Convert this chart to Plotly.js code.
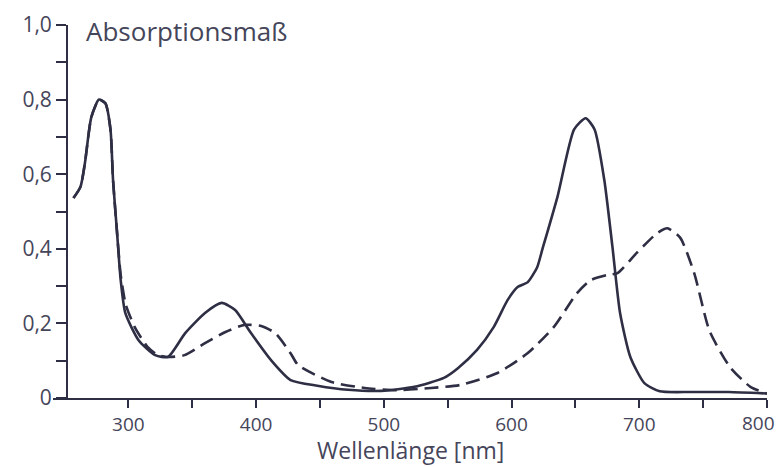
<!DOCTYPE html>
<html>
<head>
<meta charset="utf-8">
<script src="https://cdn.plot.ly/plotly-3.0.1.min.js"></script>
<style>html,body{margin:0;padding:0;background:#fff;}#chart{width:780px;height:467px;}</style>
</head>
<body>
<div id="chart"></div>
<script>
// Solid curve
const solidX = [257, 262.5, 266, 271, 277, 282, 286, 288, 291, 294, 297.6, 308, 321, 331, 344.5, 360, 373, 383.6, 396, 412, 427, 448, 472, 498, 524, 547, 558, 573, 586, 597, 605, 612.5, 620, 624, 636, 649, 658, 665, 672.6, 679, 685, 693, 704, 716, 740, 770, 800];
const solidY = [0.536, 0.566, 0.63, 0.753, 0.80, 0.79, 0.72, 0.585, 0.45, 0.316, 0.228, 0.155, 0.115, 0.11, 0.174, 0.228, 0.255, 0.236, 0.174, 0.10, 0.048, 0.033, 0.022, 0.019, 0.03, 0.054, 0.08, 0.129, 0.19, 0.263, 0.298, 0.31, 0.35, 0.397, 0.54, 0.72, 0.75, 0.72, 0.585, 0.405, 0.227, 0.11, 0.04, 0.018, 0.016, 0.016, 0.012];
// Dashed curve
const dashX = [257, 262.5, 266, 271, 277, 282, 286, 288, 291, 294, 298, 305, 315, 323, 332, 344, 360, 376, 391, 404, 415, 427, 433, 459, 485, 511, 537, 560, 589, 612.5, 633, 651, 662, 675, 683, 698, 714, 722, 732, 743, 755, 771, 787, 800];
const dashY = [0.536, 0.566, 0.63, 0.753, 0.80, 0.79, 0.72, 0.585, 0.45, 0.33, 0.25, 0.19, 0.137, 0.115, 0.11, 0.115, 0.147, 0.177, 0.196, 0.193, 0.174, 0.12, 0.088, 0.043, 0.027, 0.021, 0.027, 0.035, 0.067, 0.12, 0.19, 0.28, 0.316, 0.33, 0.335, 0.389, 0.442, 0.455, 0.43, 0.335, 0.18, 0.083, 0.03, 0.012];
// Tick labels
const yTickVals = [0, 0.2, 0.4, 0.6, 0.8, 1.0];
const yTickText = ["0", "0,2", "0,4", "0,6", "0,8", "1,0"];
const yMinorVals = [0.1, 0.3, 0.5, 0.7, 0.9];
const xTickVals = [300, 400, 500, 600, 700, 800];
const xTickText = ["300", "400", "500", "600", "700", "800"];
const xMinorVals = [350, 450, 550, 650, 750];

const lineColor = "#2e2e44";
const textColor = "#45455a";

const traces = [
  {x: solidX, y: solidY, type: "scatter", mode: "lines",
   line: {color: lineColor, width: 2.6, shape: "spline", smoothing: 0.6}, showlegend: false, cliponaxis: false},
  {x: dashX, y: dashY, type: "scatter", mode: "lines",
   line: {color: lineColor, width: 2.6, dash: "14px,7px", shape: "spline", smoothing: 0.6}, showlegend: false, cliponaxis: false}
];

// The last x tick label sits against the right edge: draw it as a right-aligned label at its tick
const lastIdx = xTickVals.length - 1;
const axisTickText = xTickText.map((t, i) => i === lastIdx ? "" : t);

const layout = {
  width: 780, height: 467,
  margin: {l: 53, r: 13, t: 25, b: 69},
  paper_bgcolor: "#fff", plot_bgcolor: "#fff",
  font: {family: "Open Sans, sans-serif", color: textColor, size: 20},
  xaxis: {
    range: [241, 800], showgrid: false, zeroline: false,
    showline: true, linecolor: lineColor, linewidth: 2,
    ticks: "outside", ticklen: 8, tickwidth: 2, tickcolor: lineColor,
    tickvals: xTickVals, ticktext: axisTickText, ticklabeloverflow: "allow",
    minor: {tickvals: xMinorVals, ticks: "outside", ticklen: 8, tickwidth: 2, tickcolor: lineColor},
    tickfont: {size: 19, color: textColor}
  },
  yaxis: {
    range: [0, 1.0], showgrid: false, zeroline: false,
    anchor: "free", position: (252 - 241) / (800 - 241),
    showline: true, linecolor: lineColor, linewidth: 2,
    ticks: "outside", ticklen: 10, tickwidth: 2, tickcolor: lineColor,
    tickvals: yTickVals, ticktext: yTickText, ticklabeloverflow: "allow",
    minor: {tickvals: yMinorVals, ticks: "outside", ticklen: 10, tickwidth: 2, tickcolor: lineColor},
    tickfont: {size: 21, color: textColor}
  },
  annotations: [
    {text: "Absorptionsmaß", xref: "x", yref: "y", x: 265, y: 0.985,
     xanchor: "left", yanchor: "middle", showarrow: false,
     font: {size: 26, color: textColor}},
    {text: "Wellenlänge [nm]", xref: "paper", yref: "paper", x: 0.5, y: -0.14,
     xanchor: "center", yanchor: "middle", showarrow: false,
     font: {size: 23, color: textColor}},
    {text: xTickText[lastIdx], xref: "x", yref: "paper", x: xTickVals[lastIdx], y: -0.066,
     xanchor: "right", yanchor: "middle", xshift: 10, showarrow: false,
     font: {size: 19, color: textColor}}
  ]
};

Plotly.newPlot("chart", traces, layout, {displayModeBar: false, staticPlot: true});
</script>
</body>
</html>
